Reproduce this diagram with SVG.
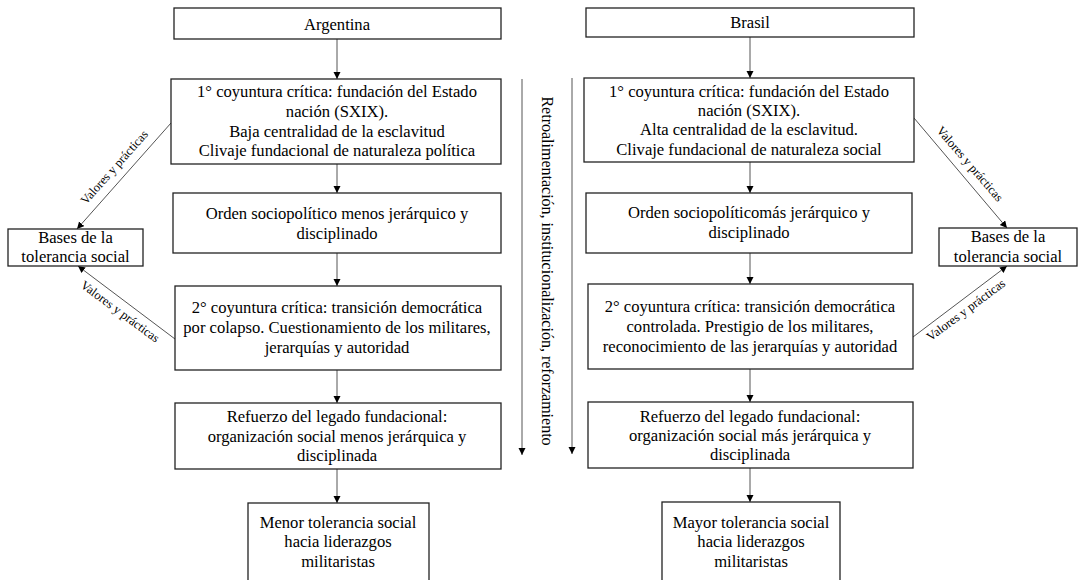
<svg xmlns="http://www.w3.org/2000/svg" width="1080" height="580" viewBox="0 0 1080 580">
<style>
.box{fill:#fff;stroke:#222;stroke-width:1.3}
text{font-family:'Times New Roman','Liberation Serif','DejaVu Serif',serif;fill:#000;text-anchor:middle}
.t{font-size:16.6px}
.lbl{font-size:12.5px}
.vt{font-size:16px}
.c{fill:none;stroke:#555;stroke-width:1;marker-end:url(#ah)}
</style>
<defs>
<marker id="ah" markerUnits="userSpaceOnUse" markerWidth="8" markerHeight="8" refX="7" refY="3.5" orient="auto">
<path d="M0,0 L7,3.5 L0,7 z" fill="#000"/>
</marker>
</defs>
<rect width="1080" height="580" fill="#fff"/>

<g id="connectors">
<line class="c" x1="337" y1="39" x2="337" y2="79"/>
<line class="c" x1="337" y1="164" x2="337" y2="193"/>
<line class="c" x1="337" y1="253" x2="337" y2="286"/>
<line class="c" x1="337" y1="370" x2="337" y2="403"/>
<line class="c" x1="337" y1="469" x2="337" y2="503"/>
<line class="c" x1="750" y1="37" x2="750" y2="78"/>
<line class="c" x1="750" y1="162" x2="750" y2="193"/>
<line class="c" x1="750" y1="253" x2="750" y2="284"/>
<line class="c" x1="750" y1="369" x2="750" y2="402"/>
<line class="c" x1="750" y1="468" x2="750" y2="502"/>
<line class="c" x1="522" y1="79" x2="522" y2="455"/>
<line class="c" x1="572" y1="78" x2="572" y2="454"/>
<line class="c" x1="171" y1="123" x2="77" y2="229"/>
<line class="c" x1="175" y1="339" x2="78" y2="266"/>
<line class="c" x1="914" y1="118" x2="1007" y2="228"/>
<line class="c" x1="913" y1="337" x2="1007" y2="266"/>
<text class="lbl" font-family="Liberation Serif, serif" transform="translate(117.3,170) rotate(-48.4)">Valores y prácticas</text>
<text class="lbl" font-family="Liberation Serif, serif" transform="translate(117.7,314.8) rotate(36.5)">Valores y prácticas</text>
<text class="lbl" font-family="Liberation Serif, serif" transform="translate(966.8,166.6) rotate(49.2)">Valores y prácticas</text>
<text class="lbl" font-family="Liberation Serif, serif" transform="translate(968.4,313.2) rotate(-36.7)">Valores y prácticas</text>
<text class="vt" transform="translate(542,271) rotate(90)">Retroalimentación, institucionalización, reforzamiento</text>
</g>

<g id="argentina">
<rect class="box" x="174" y="8" width="327" height="31"/>
<text class="t" x="337" y="30">Argentina</text>
</g>
<g id="ar-coyuntura1">
<rect class="box" x="171" y="79" width="330" height="85"/>
<text class="t" x="337" y="97">1° coyuntura crítica: fundación del Estado</text>
<text class="t" x="337" y="117">nación (SXIX).</text>
<text class="t" x="337" y="137">Baja centralidad de la esclavitud</text>
<text class="t" x="337" y="156">Clivaje fundacional de naturaleza política</text>
</g>
<g id="ar-orden">
<rect class="box" x="173" y="193" width="328" height="60"/>
<text class="t" x="337" y="219">Orden sociopolítico menos jerárquico y</text>
<text class="t" x="337" y="239">disciplinado</text>
</g>
<g id="ar-coyuntura2">
<rect class="box" x="175" y="286" width="326" height="84"/>
<text class="t" x="337" y="313">2° coyuntura crítica: transición democrática</text>
<text class="t" x="337" y="333">por colapso. Cuestionamiento de los militares,</text>
<text class="t" x="337" y="353">jerarquías y autoridad</text>
</g>
<g id="ar-refuerzo">
<rect class="box" x="175" y="403" width="326" height="66"/>
<text class="t" x="337" y="422">Refuerzo del legado fundacional:</text>
<text class="t" x="337" y="442">organización social menos jerárquica y</text>
<text class="t" x="337" y="461">disciplinada</text>
</g>
<g id="ar-tolerancia">
<rect class="box" x="248" y="503" width="181" height="90"/>
<text class="t" x="338" y="528">Menor tolerancia social</text>
<text class="t" x="338" y="547">hacia liderazgos</text>
<text class="t" x="338" y="567">militaristas</text>
</g>
<g id="ar-bases">
<rect class="box" x="8" y="229" width="135" height="37"/>
<text class="t" x="75.5" y="243">Bases de la</text>
<text class="t" x="75.5" y="262">tolerancia social</text>
</g>

<g id="brasil">
<rect class="box" x="586" y="8" width="328" height="29"/>
<text class="t" x="750" y="28">Brasil</text>
</g>
<g id="br-coyuntura1">
<rect class="box" x="584" y="78" width="330" height="84"/>
<text class="t" x="749" y="97">1° coyuntura crítica: fundación del Estado</text>
<text class="t" x="749" y="116">nación (SXIX).</text>
<text class="t" x="749" y="135">Alta centralidad de la esclavitud.</text>
<text class="t" x="749" y="155">Clivaje fundacional de naturaleza social</text>
</g>
<g id="br-orden">
<rect class="box" x="586" y="193" width="326" height="60"/>
<text class="t" x="749" y="218">Orden sociopolíticomás jerárquico y</text>
<text class="t" x="749" y="238">disciplinado</text>
</g>
<g id="br-coyuntura2">
<rect class="box" x="588" y="284" width="325" height="85"/>
<text class="t" x="750" y="312">2° coyuntura crítica: transición democrática</text>
<text class="t" x="750" y="332">controlada. Prestigio de los militares,</text>
<text class="t" x="750" y="352">reconocimiento de las jerarquías y autoridad</text>
</g>
<g id="br-refuerzo">
<rect class="box" x="588" y="402" width="325" height="66"/>
<text class="t" x="750" y="422">Refuerzo del legado fundacional:</text>
<text class="t" x="750" y="441">organización social más jerárquica y</text>
<text class="t" x="750" y="460">disciplinada</text>
</g>
<g id="br-tolerancia">
<rect class="box" x="662" y="502" width="178" height="90"/>
<text class="t" x="751" y="528">Mayor tolerancia social</text>
<text class="t" x="751" y="547">hacia liderazgos</text>
<text class="t" x="751" y="567">militaristas</text>
</g>
<g id="br-bases">
<rect class="box" x="939" y="228" width="138" height="38"/>
<text class="t" x="1008" y="242">Bases de la</text>
<text class="t" x="1008" y="262">tolerancia social</text>
</g>
</svg>
